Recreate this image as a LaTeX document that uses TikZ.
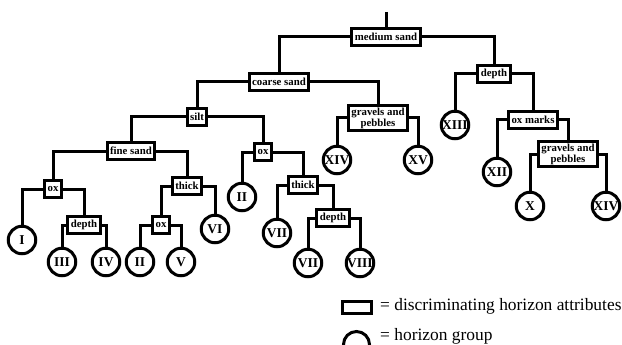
\documentclass[tikz,border=0pt]{standalone}
\usepackage{fontspec}
\setmainfont{Liberation Serif}
\usepackage{tikz}
\tikzstyle{attr} = [rectangle, draw=black, line width=3pt, minimum height=17pt, inner xsep=3pt, inner ysep=2.5pt, text centered, align=center, font=\bfseries\fontsize{10.8}{11}\selectfont]
\tikzstyle{group} = [circle, draw=black, line width=3pt, minimum size=27.5pt, inner sep=0pt, font=\bfseries\fontsize{13.5}{13.5}\selectfont]
\tikzstyle{link} = [line width=3pt]
\tikzstyle{legend} = [anchor=base west, inner sep=0pt, font=\fontsize{17.4}{17.4}\selectfont]

\begin{document}
\begin{tikzpicture}[x=1pt, y=-1pt]
  \useasboundingbox (0,0) rectangle (622,345);

  % attribute boxes
  \node (ms)   [attr] at (386,37)  {medium sand};
  \node (cs)   [attr] at (279,82)  {coarse sand};
  \node (dp1)  [attr] at (494,74)  {depth};
  \node (om)   [attr] at (533,120) {ox marks};
  \node (gp2)  [attr] at (568,154) {gravels and\\pebbles};
  \node (gp1)  [attr] at (378,118) {gravels and\\pebbles};
  \node (silt) [attr] at (197,117) {silt};
  \node (fs)   [attr] at (131,151) {fine sand};
  \node (ox1)  [attr] at (263,152) {ox};
  \node (th2)  [attr] at (303,185) {thick};
  \node (dp3)  [attr] at (333,218) {depth};
  \node (ox2)  [attr] at (53,189)  {ox};
  \node (dp2)  [attr] at (84,225)  {depth};
  \node (th1)  [attr] at (187,186) {thick};
  \node (ox3)  [attr] at (161,225) {ox};

  % horizon groups
  \node (g13)  [group] at (455,125) {XIII};
  \node (g12)  [group] at (497,172) {XII};
  \node (g10)  [group] at (530,206) {X};
  \node (g14b) [group] at (606,206) {XIV};
  \node (g14a) [group] at (337,160) {XIV};
  \node (g15)  [group] at (418,160) {XV};
  \node (g2a)  [group] at (242,197) {II};
  \node (g7a)  [group] at (277,233) {VII};
  \node (g7b)  [group] at (308,263) {VII};
  \node (g8)   [group] at (360,263) {VIII};
  \node (g1)   [group] at (22,240)  {I};
  \node (g3)   [group] at (62,262)  {III};
  \node (g4)   [group] at (106,262) {IV};
  \node (g2b)  [group] at (140,262) {II};
  \node (g5)   [group] at (181,262) {V};
  \node (g6)   [group] at (215,229) {VI};

  \coordinate (root) at (386,12);

  % branches
  \draw [link] (root) -- (ms.north);
  \draw [link] (ms.west) -| (cs.north);
  \draw [link] (ms.east) -| (dp1.north);
  \draw [link] (dp1.west) -| (g13.north);
  \draw [link] (dp1.east) -| (om.north);
  \draw [link] (om.west) -| (g12.north);
  \draw [link] (om.east) -| (gp2.north);
  \draw [link] (gp2.west) -| (g10.north);
  \draw [link] (gp2.east) -| (g14b.north);
  \draw [link] (cs.west) -| (silt.north);
  \draw [link] (cs.east) -| (gp1.north);
  \draw [link] (gp1.west) -| (g14a.north);
  \draw [link] (gp1.east) -| (g15.north);
  \draw [link] (silt.west) -| (fs.north);
  \draw [link] (silt.east) -| (ox1.north);
  \draw [link] (ox1.west) -| (g2a.north);
  \draw [link] (ox1.east) -| (th2.north);
  \draw [link] (th2.west) -| (g7a.north);
  \draw [link] (th2.east) -| (dp3.north);
  \draw [link] (dp3.west) -| (g7b.north);
  \draw [link] (dp3.east) -| (g8.north);
  \draw [link] (fs.west) -| (ox2.north);
  \draw [link] (fs.east) -| (th1.north);
  \draw [link] (ox2.west) -| (g1.north);
  \draw [link] (ox2.east) -| (dp2.north);
  \draw [link] (dp2.west) -| (g3.north);
  \draw [link] (dp2.east) -| (g4.north);
  \draw [link] (th1.west) -| (ox3.north);
  \draw [link] (th1.east) -| (g6.north);
  \draw [link] (ox3.west) -| (g2b.north);
  \draw [link] (ox3.east) -| (g5.north);

  % legend
  \node (keybox) [rectangle, draw=black, line width=3pt, minimum width=29pt, minimum height=12pt, inner sep=0pt] at (357,307) {};
  \node (keycirc) [circle, draw=black, line width=3pt, minimum size=26pt, inner sep=0pt] at (356.5,344.5) {};
  \node (keyattr) [legend] at (380,310) {= discriminating horizon attributes};
  \node (keygrp)  [legend] at (380,340) {= horizon group};
\end{tikzpicture}
\end{document}
